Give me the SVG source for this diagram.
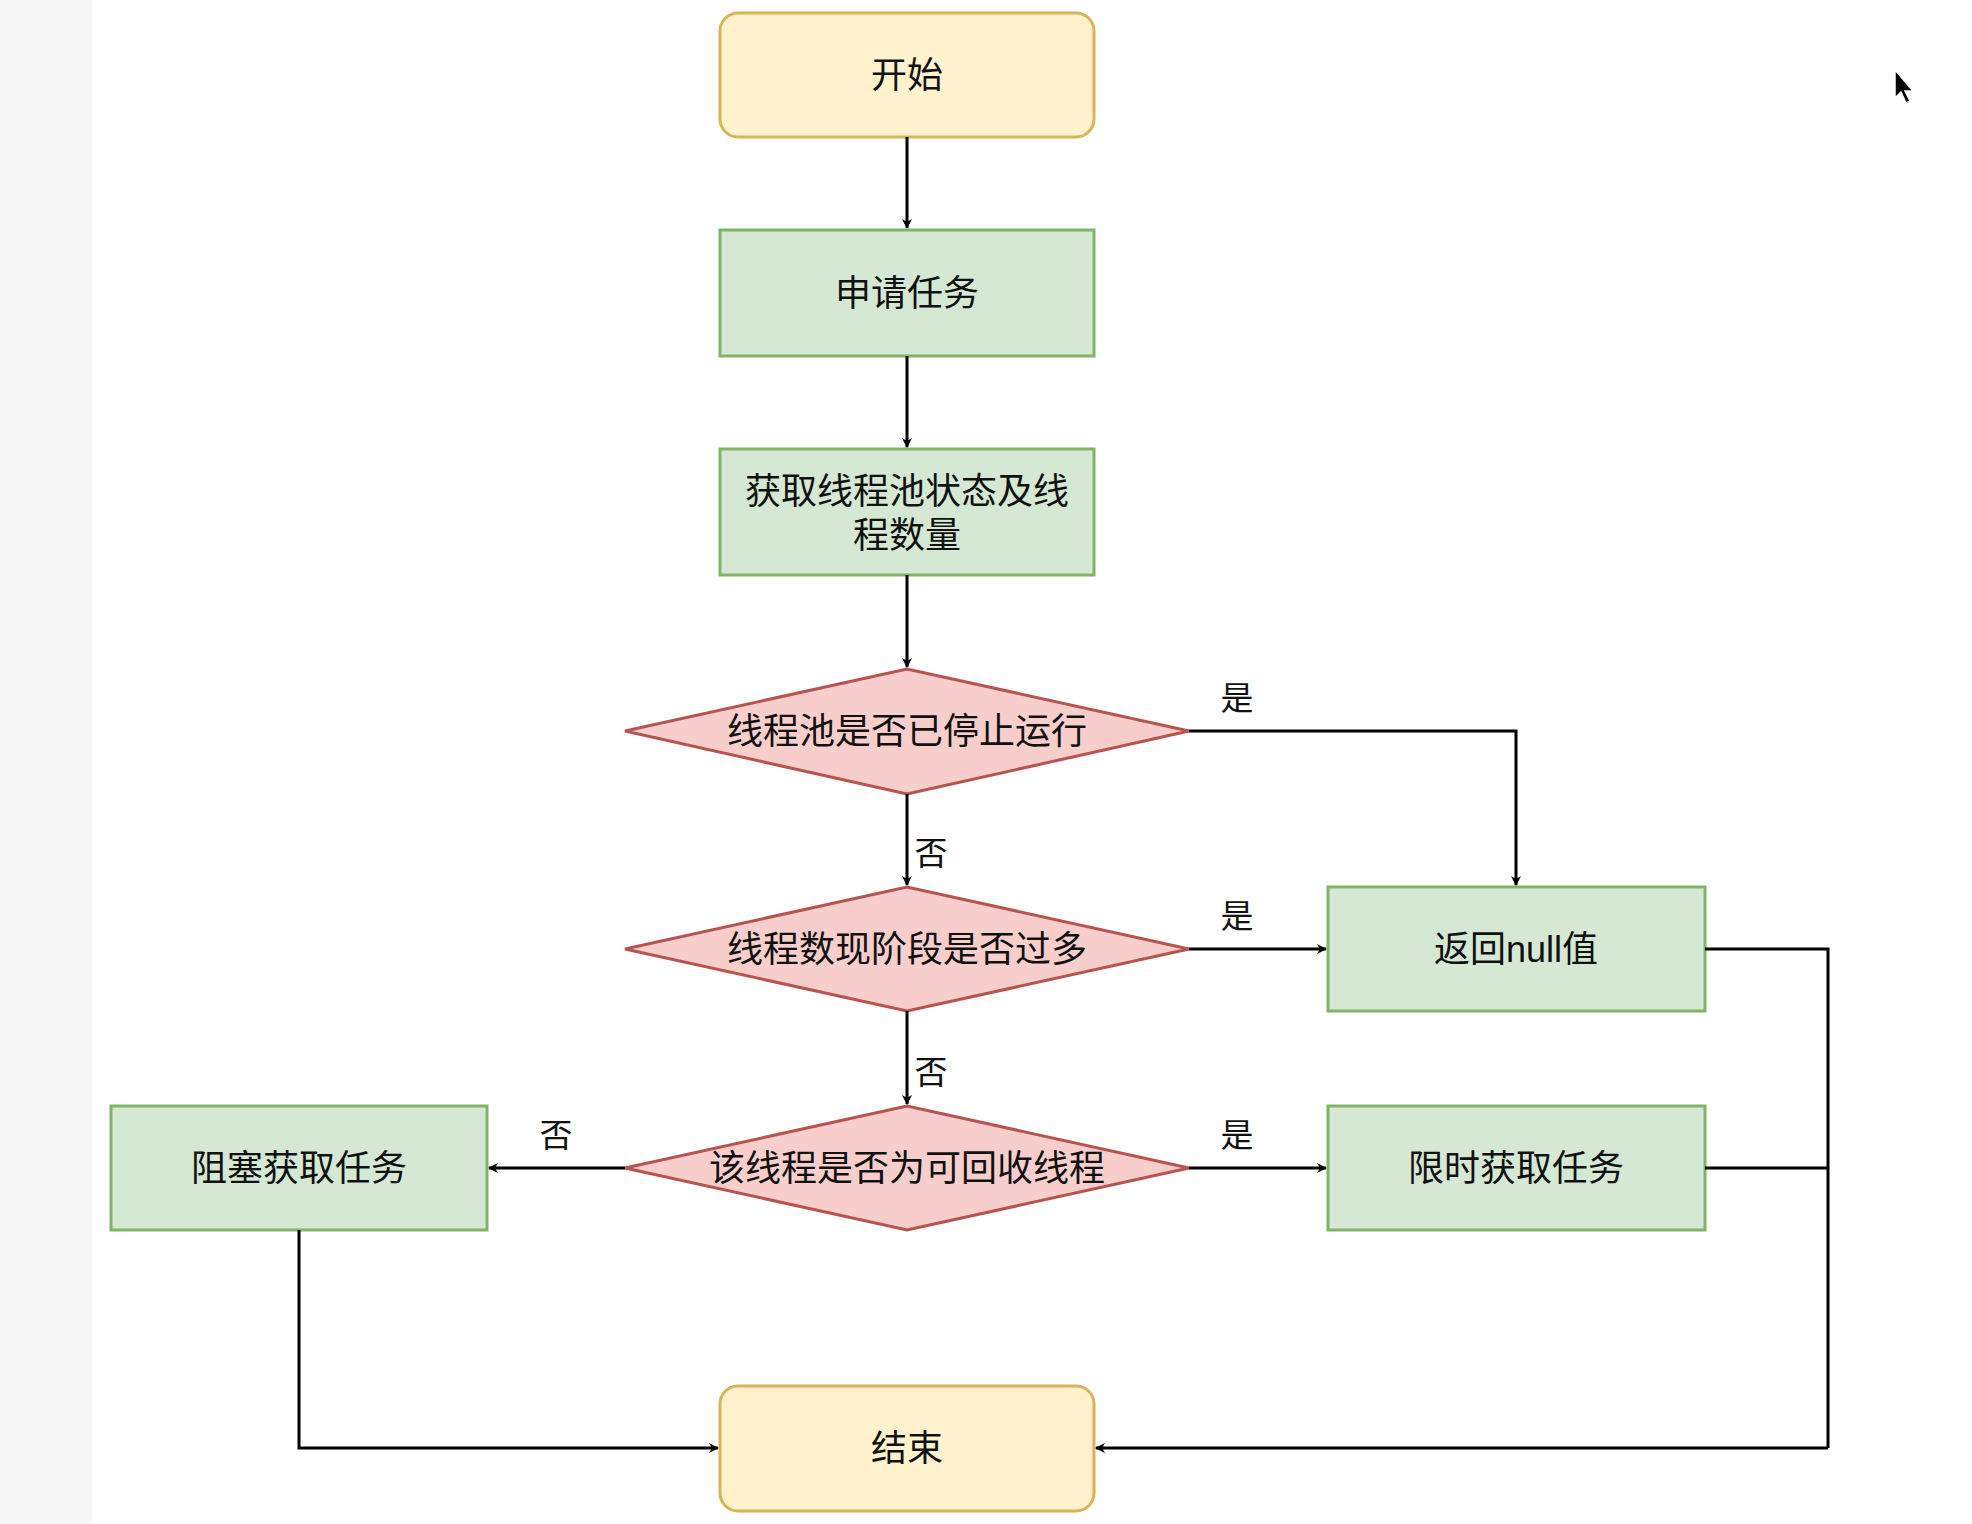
<svg xmlns="http://www.w3.org/2000/svg" width="1972" height="1524" viewBox="0 0 1972 1524">
<style>
.t{font-family:"Liberation Sans","Noto Sans CJK SC",sans-serif;font-size:36px;fill:#111;text-anchor:middle;dominant-baseline:central}
.l{font-family:"Liberation Sans","Noto Sans CJK SC",sans-serif;font-size:33px;fill:#111;text-anchor:middle;dominant-baseline:central}
.y{fill:#fff2cc;stroke:#d6b656;stroke-width:3}
.g{fill:#d5e8d4;stroke:#82b366;stroke-width:3}
.r{fill:#f8cecc;stroke:#b85450;stroke-width:3}
.c{fill:none;stroke:#000;stroke-width:3;marker-end:url(#a)}
.n{fill:none;stroke:#000;stroke-width:3}
</style>
<defs><marker id="a" markerWidth="10" markerHeight="10" refX="9" refY="5" orient="auto" markerUnits="userSpaceOnUse" viewBox="0 0 10 10"><path d="M0,0 L10,5 L0,10 L3,5 Z" fill="#000"/></marker></defs>
<rect width="1972" height="1524" fill="#fff"/>
<rect width="92" height="1524" fill="#f7f7f7"/>
<g id="start"><rect class="y" x="720" y="13" width="374" height="124" rx="18"/><text class="t" x="907" y="75">开始</text></g>
<g id="apply"><rect class="g" x="720" y="230" width="374" height="126"/><text class="t" x="907" y="293">申请任务</text></g>
<g id="get"><rect class="g" x="720" y="449" width="374" height="126"/><text class="t" x="907" y="491">获取线程池状态及线</text><text class="t" x="907" y="535">程数量</text></g>
<g id="d1"><polygon class="r" points="625,731 907,669 1189,731 907,794"/><text class="t" x="907" y="731">线程池是否已停止运行</text></g>
<g id="d2"><polygon class="r" points="625,949 907,887 1189,949 907,1011"/><text class="t" x="907" y="949">线程数现阶段是否过多</text></g>
<g id="d3"><polygon class="r" points="625,1168 907,1106 1189,1168 907,1230"/><text class="t" x="907" y="1168">该线程是否为可回收线程</text></g>
<g id="ret"><rect class="g" x="1328" y="887" width="377" height="124"/><text class="t" x="1516" y="949">返回null值</text></g>
<g id="timed"><rect class="g" x="1328" y="1106" width="377" height="124"/><text class="t" x="1516" y="1168">限时获取任务</text></g>
<g id="block"><rect class="g" x="111" y="1106" width="376" height="124"/><text class="t" x="299" y="1168">阻塞获取任务</text></g>
<g id="end"><rect class="y" x="720" y="1386" width="374" height="125" rx="18"/><text class="t" x="907" y="1448">结束</text></g>
<g id="connectors">
<path class="c" d="M907,137 V228"/>
<path class="c" d="M907,356 V447"/>
<path class="c" d="M907,575 V667"/>
<path class="c" d="M1189,731 H1516 V885"/>
<path class="c" d="M907,794 V885"/>
<path class="c" d="M1189,949 H1326"/>
<path class="c" d="M907,1011 V1104"/>
<path class="c" d="M1189,1168 H1326"/>
<path class="c" d="M625,1168 H489"/>
<path class="n" d="M1705,949 H1828 V1448"/>
<path class="n" d="M1705,1168 H1828"/>
<path class="c" d="M1828,1448 H1096"/>
<path class="c" d="M299,1230 V1448 H718"/>
<text class="l" x="1237" y="698">是</text>
<text class="l" x="931" y="853">否</text>
<text class="l" x="1237" y="916">是</text>
<text class="l" x="931" y="1072">否</text>
<text class="l" x="556" y="1135">否</text>
<text class="l" x="1237" y="1135">是</text>
</g>
<polygon points="1895,70 1895,98 1901,92 1906,103 1910,101 1905,91 1913,91" fill="#000" stroke="#fff" stroke-width="1.5"/>
</svg>
